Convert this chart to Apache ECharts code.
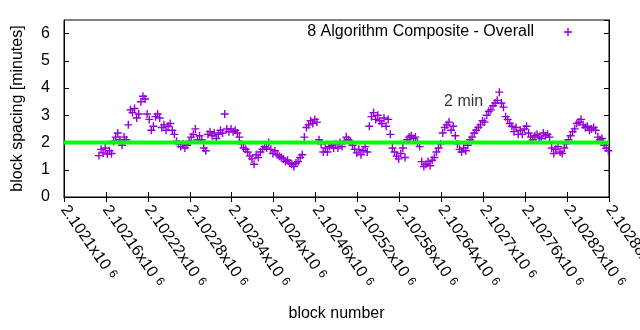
<!DOCTYPE html>
<html>
<head>
<meta charset="utf-8">
<script src="https://cdn.jsdelivr.net/npm/echarts@6/dist/echarts.min.js"></script>
<style>
  html, body { margin: 0; padding: 0; background: #fff; }
  #chart { width: 640px; height: 330px; }
</style>
</head>
<body>
<div id="chart"></div>
<script>
// Block spacing (minutes) for a run of consecutive blocks, sampled every third block.
const firstBlock = 2102150;
const blockStep = 3;
const spacingMinutes = [
  1.52, 1.75, 1.62, 1.8, 1.58,
  1.7, 1.6, 2.05, 2.2, 2.35,
  2.1, 1.9, 2.2, 2.1, 2.65,
  3.2, 3.1, 3.25, 2.9, 3.05,
  3.5, 3.7, 3.6, 3.05,
  2.85, 2.45, 2.6, 2.95, 3.05,
  2.9, 2.55, 2.65, 2.45, 2.6,
  2.7, 2.45, 2.3, 2.05, 1.95,
  1.85, 1.95, 1.8, 1.9, 2.05,
  2.2, 2.3, 2.5, 2.1,
  2.25, 2.1, 1.8, 1.7, 2.3,
  2.4, 2.25, 2.35, 2.15, 2.3,
  2.45, 2.35, 3.05, 2.5, 2.4,
  2.5, 2.4, 2.45, 2.35, 2.2,
  1.95, 1.8, 1.75, 1.65,
  1.5, 1.4, 1.2, 1.55, 1.45,
  1.65, 1.75, 1.85, 1.8, 2.0,
  1.75, 1.6, 1.7, 1.55, 1.5,
  1.45, 1.4, 1.3, 1.35, 1.25,
  1.2, 1.12, 1.25, 1.3,
  1.45, 1.55, 2.2, 2.55, 2.65,
  2.8, 2.7, 2.85, 2.75, 2.1,
  1.95, 1.65, 1.8, 1.65, 1.85,
  1.9, 1.8, 1.95, 1.8, 2.0,
  1.85, 2.05, 2.2, 2.1,
  2.05, 1.9, 1.75, 1.62, 1.75,
  1.55, 1.7, 1.85, 1.65, 2.6,
  2.95, 3.1, 2.85, 3.0, 2.8,
  2.7, 2.9, 2.6, 2.85, 2.3,
  1.8, 1.65, 1.5, 1.4,
  1.6, 1.8, 1.45, 2.1, 2.2,
  2.25, 2.15, 2.2, 2.0, 1.85,
  1.3, 1.12, 1.2, 1.3, 1.15,
  1.35, 1.45, 1.65, 1.8, 1.95,
  2.35, 2.55, 2.65, 2.75,
  2.45, 2.6, 2.25, 1.95, 1.75,
  1.65, 1.8, 1.7, 1.9, 2.1,
  2.2, 2.35, 2.45, 2.55, 2.65,
  2.8, 2.75, 3.0, 3.15, 3.2,
  3.35, 3.45, 3.55, 3.85,
  3.45, 3.3, 2.95, 2.85, 2.7,
  2.6, 2.4, 2.55, 2.3, 2.45,
  2.3, 2.5, 2.6, 2.35, 2.2,
  2.1, 2.25, 2.3, 2.2, 2.15,
  2.35, 2.25, 2.3, 2.2,
  1.8, 1.6, 1.75, 1.85, 1.65,
  1.6, 1.8, 1.95, 2.1, 2.25,
  2.4, 2.5, 2.7, 2.75, 2.85,
  2.65, 2.55, 2.6, 2.45, 2.5,
  2.55, 2.45, 2.2, 2.1,
  2.15, 1.9, 1.8, 1.7
];

// Axis ranges and tick labels
const xMin = 2102100;
const xMax = 2102880;
const xInterval = 60;
const xTickMantissas = [
  '2.1021', '2.10216', '2.10222', '2.10228', '2.10234', '2.1024', '2.10246',
  '2.10252', '2.10258', '2.10264', '2.1027', '2.10276', '2.10282', '2.10288'
];
const yMin = 0;
const yMax = 6.5;
const yInterval = 1;

// Reference line and its annotation
const targetMinutes = 2;
const targetLabel = '2 min';
const targetLabelAt = [2102700, 3.5];

const seriesName = '8 Algorithm Composite - Overall';
const xTitle = 'block number';
const yTitle = 'block spacing [minutes]';

const points = spacingMinutes.map((v, i) => [firstBlock + i * blockStep, v]);

const FONT = '"Liberation Sans", Arial, sans-serif';
const FS = 16;
const plusSymbol = 'path://M3.3,0H4.7V3.3H8V4.7H4.7V8H3.3V4.7H0V3.3H3.3Z';
const purple = '#9400d3';

const chart = echarts.init(document.getElementById('chart'), null, { renderer: 'canvas' });

const mirrorTick = { show: true, inside: true, length: 5, lineStyle: { color: '#000', width: 1 } };

chart.setOption({
  animation: false,
  backgroundColor: '#fff',
  textStyle: { fontFamily: FONT },
  grid: {
    left: 64, right: 31, top: 20, bottom: 133,
    outerBoundsMode: 'none', containLabel: false,
    show: true, borderColor: '#000', borderWidth: 1, backgroundColor: 'transparent'
  },
  legend: {
    data: [seriesName],
    selectedMode: false,
    right: 68, top: 24, padding: 0,
    align: 'right',
    itemWidth: 8, itemHeight: 8,
    icon: plusSymbol,
    itemStyle: { color: purple },
    textStyle: { fontSize: FS, color: '#000', fontFamily: FONT, padding: [0, 25, 0, 0] }
  },
  xAxis: [
    {
      type: 'value', position: 'bottom',
      min: xMin, max: xMax, interval: xInterval,
      name: xTitle, nameLocation: 'middle', nameGap: 109,
      nameTextStyle: { fontSize: FS, color: '#000', fontFamily: FONT },
      axisLine: { show: true, lineStyle: { color: '#000', width: 1 } },
      axisTick: mirrorTick,
      splitLine: { show: false },
      axisLabel: {
        rotate: -55, margin: 10, color: '#000', fontFamily: FONT, fontSize: FS,
        showMinLabel: true, showMaxLabel: true, hideOverlap: false,
        formatter: v => {
          const idx = Math.round((v - xMin) / xInterval);
          const m = xTickMantissas[idx];
          return m ? '{m|' + m + 'x10}{e|6}' : '';
        },
        rich: {
          m: { fontSize: FS, color: '#000', fontFamily: FONT },
          e: { fontSize: 12, color: '#000', fontFamily: FONT, padding: [0, 0, 3, 5] }
        }
      }
    },
    {
      type: 'value', position: 'top',
      min: xMin, max: xMax, interval: xInterval,
      axisLine: { show: true, lineStyle: { color: '#000', width: 1 } },
      axisTick: mirrorTick,
      axisLabel: { show: false },
      splitLine: { show: false }
    }
  ],
  yAxis: [
    {
      type: 'value', position: 'left',
      min: yMin, max: yMax, interval: yInterval,
      name: yTitle, nameLocation: 'middle', nameGap: 38, nameRotate: 90,
      nameTextStyle: { fontSize: FS, color: '#000', fontFamily: FONT },
      axisLine: { show: true, lineStyle: { color: '#000', width: 1 } },
      axisTick: mirrorTick,
      splitLine: { show: false },
      axisLabel: { margin: 14, color: '#000', fontSize: FS, fontFamily: FONT, showMaxLabel: false }
    },
    {
      type: 'value', position: 'right',
      min: yMin, max: yMax, interval: yInterval,
      axisLine: { show: true, lineStyle: { color: '#000', width: 1 } },
      axisTick: mirrorTick,
      axisLabel: { show: false },
      splitLine: { show: false }
    }
  ],
  series: [
    {
      name: seriesName,
      type: 'scatter',
      data: points,
      symbol: plusSymbol,
      symbolSize: 8,
      itemStyle: { color: purple, opacity: 1 },
      z: 2,
      silent: true
    },
    {
      name: 'target',
      type: 'line',
      data: [[xMin, targetMinutes], [xMax, targetMinutes]],
      symbol: 'none',
      lineStyle: { color: '#00ff00', width: 4 },
      z: 3,
      silent: true
    },
    {
      name: 'annotation',
      type: 'scatter',
      data: [targetLabelAt],
      symbolSize: 0,
      silent: true,
      z: 4,
      label: {
        show: true, position: 'left', distance: 0,
        formatter: targetLabel,
        fontSize: FS, color: '#000', fontFamily: FONT
      }
    }
  ]
});
</script>
</body>
</html>
